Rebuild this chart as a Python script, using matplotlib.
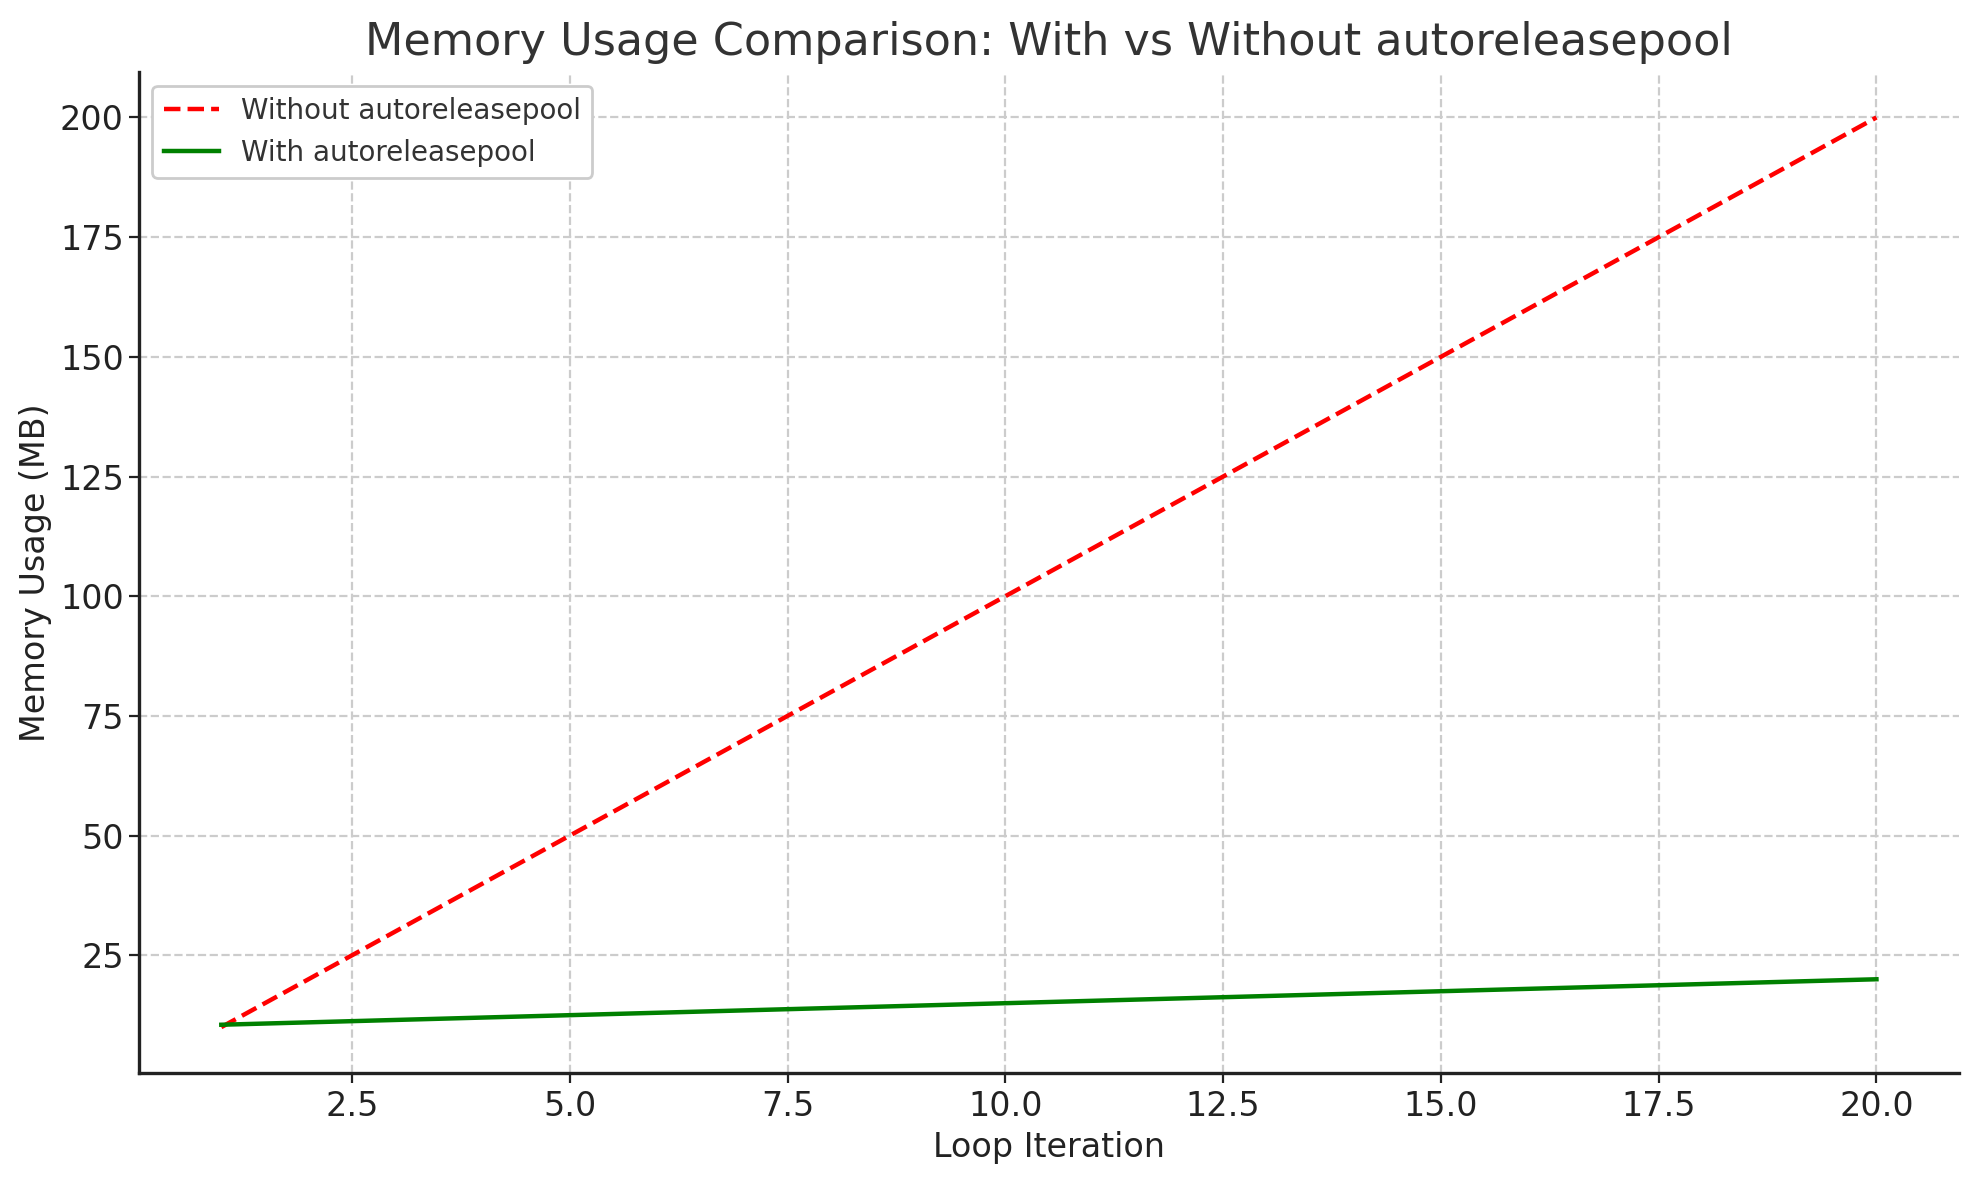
import matplotlib
matplotlib.use("Agg")
import matplotlib.pyplot as plt

# Loop iterations and memory usage readings (MB)
iterations = [1, 2, 3, 4, 5, 6, 7, 8, 9, 10, 11, 12, 13, 14, 15, 16, 17, 18, 19, 20]
mem_without_pool = [10, 20, 30, 40, 50, 60, 70, 80, 90, 100,
                    110, 120, 130, 140, 150, 160, 170, 180, 190, 200]
mem_with_pool = [10.5, 11.0, 11.5, 12.0, 12.5, 13.0, 13.5, 14.0, 14.5, 15.0,
                 15.5, 16.0, 16.5, 17.0, 17.5, 18.0, 18.5, 19.0, 19.5, 20.0]

fig, ax = plt.subplots(figsize=(9.895, 5.9), dpi=200)

ax.plot(iterations, mem_without_pool, color="red", linestyle="--", lw=1.6,
        label="Without autoreleasepool")
ax.plot(iterations, mem_with_pool, color="green", linestyle="-", lw=1.6,
        label="With autoreleasepool")

ax.set_title("Memory Usage Comparison: With vs Without autoreleasepool",
             fontsize=16, color="#333333")
ax.set_xlabel("Loop Iteration", fontsize=12, color="#222222", labelpad=3)
ax.set_ylabel("Memory Usage (MB)", fontsize=12, color="#222222", labelpad=3)
ax.tick_params(labelsize=12, colors="#222222")
ax.tick_params(axis="y", pad=1.8)
ax.tick_params(axis="x", pad=2.8)

ax.grid(True, linestyle="--", color="#cccccc", linewidth=0.8)
ax.spines["top"].set_visible(False)
ax.spines["right"].set_visible(False)
for s in ("left", "bottom"):
    ax.spines[s].set_linewidth(1.2)
    ax.spines[s].set_color("#222222")

leg = ax.legend(loc="upper left", fontsize=10, framealpha=1)
leg.get_frame().set_edgecolor("#cccccc")
for t in leg.get_texts():
    t.set_color("#333333")

fig.subplots_adjust(left=0.07, right=0.99, top=0.939, bottom=0.091)
fig.savefig("out.png", dpi=200)
